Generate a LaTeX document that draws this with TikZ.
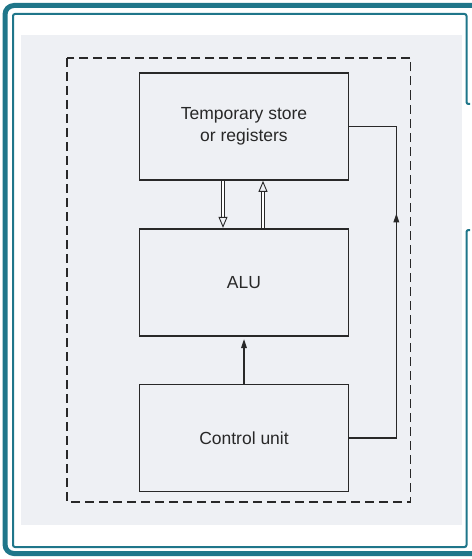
\documentclass[tikz,border=0pt]{standalone}
\usepackage{fontspec}
\setmainfont{Liberation Sans}
\usetikzlibrary{arrows.meta,positioning,decorations.markings}
\definecolor{teal2}{RGB}{31,118,138}
\definecolor{scan}{RGB}{238,240,244}
\definecolor{ink}{RGB}{40,40,40}
\tikzset{
  unitbox/.style={draw=ink, line width=1.7pt, minimum width=209pt,
    minimum height=107pt, inner sep=0pt, align=center, text=ink,
    font=\fontsize{17.5}{22}\selectfont},
  flow/.style={-{Triangle[length=9pt,width=5.5pt]}, draw=ink, line width=1.4pt},
  busflow/.style={draw=ink, line width=0.9pt, double distance=2.2pt,
    -{Triangle[open,length=11pt,width=9pt]}},
  markflow/.style={draw=ink, line width=1.4pt, postaction={decorate},
    decoration={markings, mark=at position #1 with {\arrow{Triangle[length=9pt,width=5.5pt]}}}}
}

\begin{document}
\begin{tikzpicture}[x=1pt, y=-1pt, node distance=47pt]
\useasboundingbox (0,0) rectangle (471,559);

% frame
\fill[scan] (21,35) rectangle (462,525);
\draw[teal2, line width=5pt, rounded corners=9pt] (475,5.5) -- (5,5.5) -- (5,553.5) -- (475,553.5);
\draw[teal2, line width=2pt, rounded corners=2pt] (470,104) -- (466.5,104) -- (466.5,14) -- (13,14)
  -- (13,547) -- (466.5,547) -- (466.5,230) -- (470,230);

% processor boundary
\draw[ink, line width=1.5pt, dash pattern=on 9pt off 5pt] (67,58) rectangle (410.5,502);

\node[unitbox] (temp) at (244,126.5) {Temporary store\\or registers};
\node[unitbox, below=of temp] (alu) {ALU};
\node[unitbox, below=of alu] (ctrl) {Control unit};

\draw[busflow] ([xshift=-21pt]temp.south) -- ([xshift=-21pt]alu.north);
\draw[busflow] ([xshift=19pt]alu.north) -- ([xshift=19pt]temp.south);
\draw[flow, shorten >=2.5pt] (ctrl) -- (alu);
\draw[markflow=0.67] (ctrl.east) -- ++(47,0) coordinate (fb) |- (temp.east);
\end{tikzpicture}
\end{document}
